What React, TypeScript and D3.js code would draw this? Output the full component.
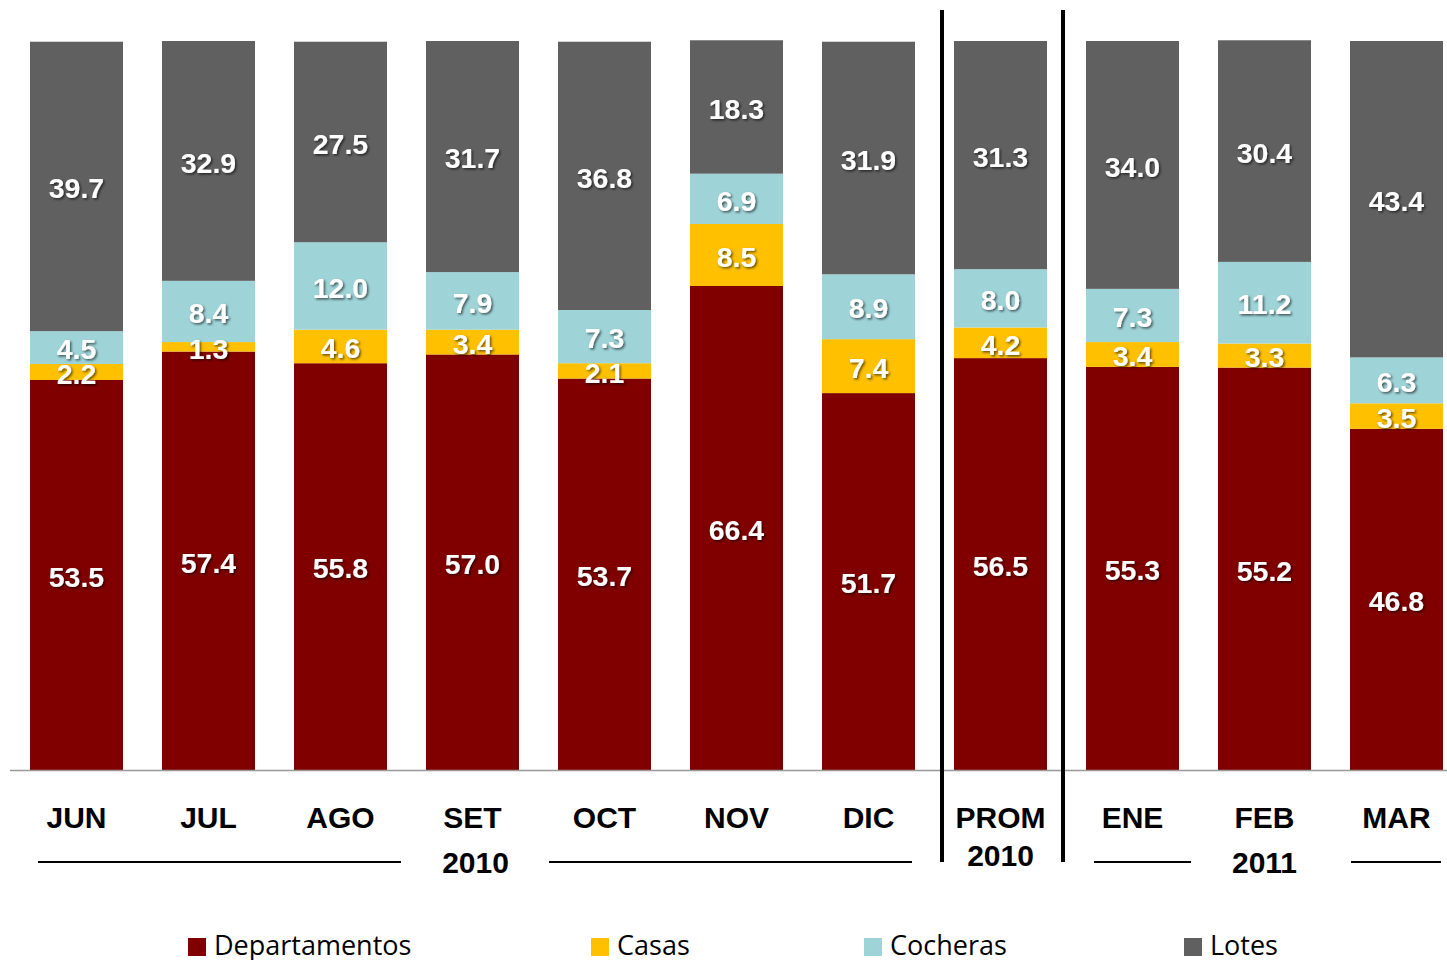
import React from "react";
import * as d3 from "d3";

const categories = ["JUN", "JUL", "AGO", "SET", "OCT", "NOV", "DIC", "PROM", "ENE", "FEB", "MAR"];
const departamentos = [53.5, 57.4, 55.8, 57.0, 53.7, 66.4, 51.7, 56.5, 55.3, 55.2, 46.8];
const casas = [2.2, 1.3, 4.6, 3.4, 2.1, 8.5, 7.4, 4.2, 3.4, 3.3, 3.5];
const cocheras = [4.5, 8.4, 12.0, 7.9, 7.3, 6.9, 8.9, 8.0, 7.3, 11.2, 6.3];
const lotes = [39.7, 32.9, 27.5, 31.7, 36.8, 18.3, 31.9, 31.3, 34.0, 30.4, 43.4];
const seriesNames = ["Departamentos", "Casas", "Cocheras", "Lotes"];
const seriesColors = ["#800000", "#FFC000", "#9ED3D8", "#606060"];

const W = 1447;
const H = 960;

export default function App() {
  const seriesValues = [departamentos, casas, cocheras, lotes];
  const rows = categories.map((c, i) => {
    const r: any = { cat: c };
    seriesNames.forEach((s, k) => (r[s] = seriesValues[k][i]));
    return r;
  });
  const stack = d3.stack<any>().keys(seriesNames)(rows);

  const x = d3.scaleBand<string>().domain(categories).range([10.5, 10.5 + 132 * 11]).paddingInner(39 / 132).paddingOuter(39 / 264);
  const y = d3.scaleLinear().domain([0, 100]).range([770, 41]);

  const cx = (c: string) => (x(c) as number) + x.bandwidth() / 2;

  const legendX = [188, 591, 864, 1184];

  return (
    <svg width={W} height={H} style={{ display: "block", position: "absolute", left: 0, top: 0 }}>
      <defs>
        <filter id="sh" x="-20%" y="-20%" width="140%" height="140%">
          <feDropShadow dx="1.5" dy="1.5" stdDeviation="1" floodColor="#000" floodOpacity="0.6" />
        </filter>
      </defs>
      <rect width={W} height={H} fill="#fff" />
      {stack.map((s, k) => (
        <g key={k}>
          {s.map((d, i) => (
            <rect
              key={i}
              x={x(categories[i])}
              width={x.bandwidth()}
              y={y(d[1])}
              height={y(d[0]) - y(d[1])}
              fill={seriesColors[k]}
            />
          ))}
        </g>
      ))}
      {stack.map((s, k) => (
        <g key={"l" + k} filter="url(#sh)">
          {s.map((d, i) => (
            <text
              key={i}
              x={cx(categories[i])}
              y={(y(d[0]) + y(d[1])) / 2 + 1.5}
              dy="0.36em"
              textAnchor="middle"
              fill="#fff"
              fontFamily="Liberation Sans, Arial, sans-serif"
              fontWeight="bold"
              fontSize={28.5}
            >
              {seriesValues[k][i].toFixed(1)}
            </text>
          ))}
        </g>
      ))}
      <line x1={10} x2={W} y1={770.5} y2={770.5} stroke="#999" strokeWidth={1.5} />
      <line x1={942} x2={942} y1={10} y2={862} stroke="#000" strokeWidth={4} />
      <line x1={1063} x2={1063} y1={10} y2={862} stroke="#000" strokeWidth={4} />
      <g fontFamily="Liberation Sans, Arial, sans-serif" fontWeight="bold" fontSize={30} fill="#000" textAnchor="middle">
        {categories.map((c) => (
          <text key={c} x={cx(c)} y={828}>
            {c}
          </text>
        ))}
        <text x={cx("SET") + 3} y={873}>2010</text>
        <text x={cx("PROM")} y={866}>2010</text>
        <text x={cx("FEB")} y={873}>2011</text>
      </g>
      <g stroke="#000" strokeWidth={2}>
        <line x1={38} x2={401} y1={862} y2={862} />
        <line x1={549} x2={912} y1={862} y2={862} />
        <line x1={1094} x2={1191} y1={862} y2={862} />
        <line x1={1351} x2={1441} y1={862} y2={862} />
      </g>
      <g>
        {seriesNames.map((s, k) => (
          <g key={s}>
            <rect x={legendX[k]} y={938} width={18} height={18} fill={seriesColors[k]} />
            <text x={legendX[k] + 26} y={955} fontFamily="Open Sans, sans-serif" fontSize={27} fill="#000">
              {s}
            </text>
          </g>
        ))}
      </g>
    </svg>
  );
}
